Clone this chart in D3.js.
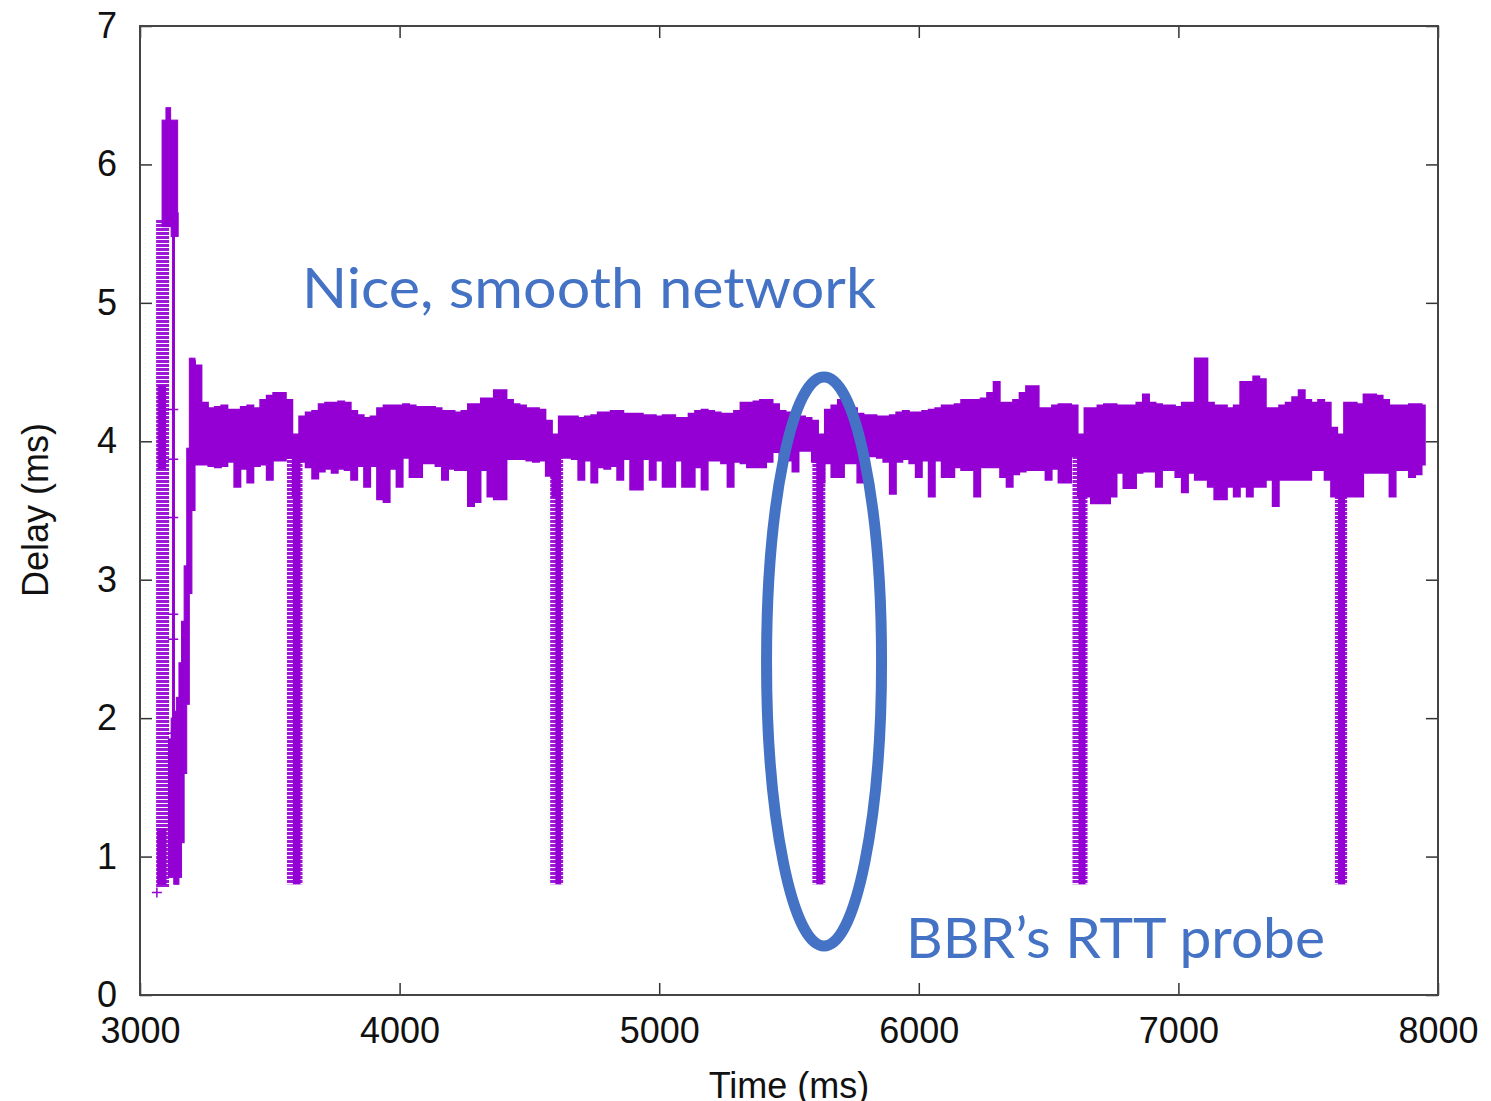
<!DOCTYPE html>
<html>
<head>
<meta charset="utf-8">
<script src="https://cdn.jsdelivr.net/npm/d3@7"></script>
<style>
  body { margin: 0; background: #fff; }
  svg text { font-family: "Liberation Sans", Arial, sans-serif; }
</style>
</head>
<body>
<div class="chart"></div>
<script>
// ---- data ----
const timeTicks = [3000, 4000, 5000, 6000, 7000, 8000]
const delayTicks = [0, 1, 2, 3, 4, 5, 6, 7]

// main band: time (ms), lowest and highest delay (ms) around that time
const bandTime = [3200,3225,3250,3275,3300,3325,3350,3375,3400,3425,3450,3475,3500,3525,3550,3575,3600,3625,3650,3675,
  3700,3725,3750,3775,3800,3825,3850,3875,3900,3925,3950,3975,4000,4025,4050,4075,4100,4125,4150,4175,
  4200,4225,4250,4275,4300,4325,4350,4375,4400,4425,4450,4475,4500,4525,4550,4575,4600,4625,4650,4675,
  4700,4725,4750,4775,4800,4825,4850,4875,4900,4925,4950,4975,5000,5025,5050,5075,5100,5125,5150,5175,
  5200,5225,5250,5275,5300,5325,5350,5375,5400,5425,5450,5475,5500,5525,5550,5575,5600,5625,5650,5675,
  5700,5725,5750,5775,5800,5825,5850,5875,5900,5925,5950,5975,6000,6025,6050,6075,6100,6125,6150,6175,
  6200,6225,6250,6275,6300,6325,6350,6375,6400,6425,6450,6475,6500,6525,6550,6575,6600,6625,6650,6675,
  6700,6725,6750,6775,6800,6825,6850,6875,6900,6925,6950,6975,7000,7025,7050,7075,7100,7125,7150,7175,
  7200,7225,7250,7275,7300,7325,7350,7375,7400,7425,7450,7475,7500,7525,7550,7575,7600,7625,7650,7675,
  7700,7725,7750,7775,7800,7825,7850,7875,7900,7925,7950]
const bandHigh = [4.58,4.55,4.28,4.24,4.25,4.26,4.23,4.23,4.25,4.26,4.24,4.30,4.33,4.35,4.35,4.30,4.05,4.18,4.21,4.22,
  4.27,4.28,4.28,4.29,4.28,4.22,4.19,4.17,4.18,4.24,4.26,4.26,4.26,4.27,4.26,4.25,4.25,4.25,4.24,4.22,
  4.22,4.21,4.22,4.27,4.27,4.31,4.31,4.37,4.37,4.30,4.27,4.26,4.24,4.24,4.23,4.15,4.05,4.18,4.18,4.18,
  4.17,4.18,4.19,4.21,4.21,4.22,4.22,4.20,4.20,4.20,4.19,4.19,4.18,4.19,4.19,4.17,4.17,4.20,4.22,4.23,
  4.22,4.21,4.20,4.20,4.22,4.28,4.28,4.29,4.30,4.30,4.27,4.22,4.21,4.19,4.18,4.17,4.15,4.05,4.23,4.26,
  4.30,4.27,4.24,4.20,4.19,4.19,4.18,4.18,4.19,4.21,4.22,4.21,4.21,4.22,4.23,4.24,4.26,4.26,4.27,4.30,
  4.30,4.30,4.31,4.35,4.43,4.28,4.28,4.30,4.35,4.40,4.40,4.24,4.24,4.26,4.27,4.27,4.26,4.05,4.24,4.24,
  4.26,4.27,4.27,4.26,4.26,4.26,4.28,4.34,4.28,4.27,4.26,4.26,4.25,4.28,4.28,4.60,4.60,4.28,4.26,4.26,
  4.24,4.26,4.43,4.43,4.47,4.45,4.24,4.24,4.26,4.28,4.32,4.37,4.30,4.28,4.30,4.28,4.10,4.05,4.28,4.28,
  4.27,4.34,4.34,4.33,4.30,4.26,4.26,4.26,4.27,4.27,4.26]
const bandLow = [3.85,3.83,3.83,3.82,3.81,3.82,3.85,3.67,3.80,3.70,3.82,3.83,3.72,3.86,3.86,3.88,3.60,3.85,3.81,3.73,
  3.78,3.80,3.77,3.80,3.79,3.72,3.82,3.67,3.82,3.58,3.56,3.80,3.67,3.88,3.74,3.74,3.84,3.84,3.82,3.72,
  3.80,3.79,3.79,3.53,3.56,3.79,3.60,3.58,3.58,3.87,3.87,3.87,3.86,3.85,3.86,3.75,3.60,3.88,3.88,3.87,
  3.72,3.86,3.70,3.81,3.80,3.82,3.72,3.87,3.65,3.65,3.87,3.72,3.86,3.67,3.67,3.86,3.67,3.67,3.81,3.65,
  3.86,3.86,3.84,3.67,3.85,3.84,3.81,3.81,3.81,3.85,3.92,3.84,3.86,3.78,3.93,3.93,3.85,3.70,3.84,3.74,
  3.74,3.84,3.84,3.70,3.89,3.89,3.88,3.85,3.62,3.85,3.87,3.84,3.74,3.86,3.60,3.86,3.74,3.74,3.81,3.79,
  3.79,3.60,3.81,3.81,3.81,3.74,3.67,3.76,3.78,3.79,3.79,3.79,3.72,3.80,3.70,3.70,3.89,3.60,3.60,3.55,
  3.55,3.55,3.60,3.77,3.66,3.66,3.77,3.78,3.78,3.67,3.79,3.79,3.74,3.63,3.77,3.72,3.72,3.67,3.58,3.58,
  3.67,3.60,3.67,3.60,3.67,3.67,3.72,3.53,3.72,3.72,3.72,3.72,3.72,3.79,3.79,3.72,3.60,3.60,3.60,3.60,
  3.60,3.77,3.77,3.77,3.77,3.60,3.79,3.79,3.74,3.76,3.83]

// RTT probe drops: sparse edge and dense core, in ms
const probeStart = [3566, 4580, 5590, 6592, 7603]
const probeCoreStart = [3589, 4600, 5605, 6615, 7615]
const probeEnd = [3626, 4630, 5640, 6650, 7650]
const probeTop = [3.95, 3.90, 4.00, 3.90, 3.75]
const probeBottom = [0.80, 0.80, 0.80, 0.80, 0.80]

// start-up burst (time from, time to, low, high, dense)
const burstFrom = [3062, 3085, 3100, 3120, 3125, 3068, 3070,
  3110, 3120, 3130, 3140, 3150, 3160, 3170, 3180, 3190, 3200]
const burstTo = [3112, 3145, 3118, 3147, 3131, 3100, 3098,
  3120, 3130, 3140, 3150, 3160, 3170, 3180, 3190, 3200, 3212]
const burstLow = [0.78, 5.55, 6.00, 5.48, 1.00, 0.80, 3.80,
  0.85, 0.85, 0.80, 0.80, 0.85, 1.10, 1.60, 2.10, 2.90, 3.50]
const burstHigh = [5.60, 6.32, 6.41, 5.65, 5.50, 1.20, 4.40,
  1.85, 2.00, 2.05, 2.15, 2.40, 2.70, 3.10, 3.95, 4.60, 4.60]
const burstDense = [false, true, true, true, true, true, true,
  true, true, true, true, true, true, true, true, true, true]

// loose single samples
const looseTime = [3128, 3128, 3128, 3128, 3128, 3122, 3122, 3065]
const looseDelay = [4.23, 3.87, 3.45, 2.75, 2.57, 1.89, 1.74, 0.74]

let w = 1491
let h = 1101
let purple = "#9400d3"
let blue = "#4472c4"

const x = d3.scaleLinear().domain([3000, 8000]).range([140, 1438])
const y = d3.scaleLinear().domain([0, 7]).range([995, 26])

let svg = d3.select(".chart")
  .append("svg")
  .attr("width", w)
  .attr("height", h)

// stacked crosses look for the thin parts
let defs = svg.append("defs")
let pat = defs.append("pattern")
  .attr("id", "crosses")
  .attr("patternUnits", "userSpaceOnUse")
  .attr("width", 6).attr("height", 4)
pat.append("rect").attr("x", 0).attr("y", 0).attr("width", 6).attr("height", 3)
  .attr("fill", purple).attr("opacity", 0.9)

let plot = svg.append("g")

// band
let band = d3.area()
  .x((d, i) => x(bandTime[i]))
  .y0((d, i) => y(bandLow[i]))
  .y1((d, i) => y(bandHigh[i]))
  .curve(d3.curveStep)

plot.append("path")
  .datum(bandTime)
  .attr("d", band)
  .attr("fill", purple)
  .attr("stroke", purple)
  .attr("stroke-width", 1.5)

// probes
plot.selectAll(".probe-edge")
  .data(probeStart)
  .enter()
  .append("rect")
  .attr("class", "probe-edge")
  .attr("x", (d) => x(d))
  .attr("width", (d, i) => x(probeEnd[i]) - x(d))
  .attr("y", (d, i) => y(probeTop[i]))
  .attr("height", (d, i) => y(probeBottom[i]) - y(probeTop[i]))
  .attr("fill", "url(#crosses)")

plot.selectAll(".probe-core")
  .data(probeCoreStart)
  .enter()
  .append("rect")
  .attr("class", "probe-core")
  .attr("x", (d) => x(d))
  .attr("width", (d, i) => x(probeEnd[i]) - x(d) - 2)
  .attr("y", (d, i) => y(probeTop[i]))
  .attr("height", (d, i) => y(probeBottom[i]) - y(probeTop[i]))
  .attr("fill", purple)

// start-up burst
plot.selectAll(".burst")
  .data(burstFrom)
  .enter()
  .append("rect")
  .attr("class", "burst")
  .attr("x", (d) => x(d))
  .attr("width", (d, i) => Math.max(2, x(burstTo[i]) - x(d)))
  .attr("y", (d, i) => y(burstHigh[i]))
  .attr("height", (d, i) => y(burstLow[i]) - y(burstHigh[i]))
  .attr("fill", (d, i) => burstDense[i] ? purple : "url(#crosses)")
  .attr("stroke", (d, i) => burstDense[i] ? purple : "none")
  .attr("stroke-width", 1)

// single + marks
plot.selectAll(".pt")
  .data(looseTime)
  .enter()
  .append("path")
  .attr("class", "pt")
  .attr("d", (d, i) => {
    let cx = x(d), cy = y(looseDelay[i])
    return "M" + (cx - 5) + "," + cy + "h10M" + cx + "," + (cy - 5) + "v10"
  })
  .attr("stroke", purple)
  .attr("stroke-width", 1.5)
  .attr("fill", "none")

// axes, ticks pointing in, mirrored on top/right
let axisFont = (g) => {
  g.select(".domain").remove()
  g.selectAll("line").attr("stroke", "#333").attr("stroke-width", 1.5)
  g.selectAll("text").attr("font-size", 36).attr("fill", "#111")
    .attr("font-family", "Liberation Sans, Arial, sans-serif")
}

svg.append("g")
  .attr("transform", "translate(0," + 995 + ")")
  .call(d3.axisBottom(x).tickValues(timeTicks).tickSize(-12).tickPadding(22).tickFormat(d3.format("d")))
  .call(axisFont)
svg.append("g")
  .attr("transform", "translate(0," + 26 + ")")
  .call(d3.axisTop(x).tickValues(timeTicks).tickSize(-12).tickFormat(""))
  .call(axisFont)
svg.append("g")
  .attr("transform", "translate(" + 140 + ",0)")
  .call(d3.axisLeft(y).tickValues(delayTicks).tickSize(-12).tickPadding(23).tickFormat(d3.format("d")))
  .call(axisFont)
svg.append("g")
  .attr("transform", "translate(" + 1438 + ",0)")
  .call(d3.axisRight(y).tickValues(delayTicks).tickSize(-12).tickFormat(""))
  .call(axisFont)

svg.append("rect")
  .attr("x", 140).attr("y", 26)
  .attr("width", 1438 - 140).attr("height", 995 - 26)
  .attr("fill", "none")
  .attr("stroke", "#444")
  .attr("stroke-width", 2)

// axis titles
svg.append("text")
  .text("Time (ms)")
  .attr("x", 789)
  .attr("y", 1098)
  .attr("text-anchor", "middle")
  .attr("font-size", 36)
  .attr("fill", "#111")

svg.append("text")
  .text("Delay (ms)")
  .attr("transform", "translate(48,510) rotate(-90)")
  .attr("text-anchor", "middle")
  .attr("font-size", 36)
  .attr("fill", "#111")

// annotations
svg.append("ellipse")
  .attr("cx", x(5635))
  .attr("cy", y(2.41))
  .attr("rx", 57.5)
  .attr("ry", 284.5)
  .attr("fill", "none")
  .attr("stroke", blue)
  .attr("stroke-width", 11)

svg.append("text")
  .text("Nice, smooth network")
  .attr("x", 302)
  .attr("y", 308)
  .attr("font-size", 57)
  .attr("textLength", 574)
  .attr("lengthAdjust", "spacingAndGlyphs")
  .style("font-family", "Lato, 'Open Sans', sans-serif")
  .attr("fill", blue)

svg.append("text")
  .text("BBR’s RTT probe")
  .attr("x", 906)
  .attr("y", 958)
  .attr("font-size", 57)
  .attr("textLength", 419)
  .attr("lengthAdjust", "spacingAndGlyphs")
  .style("font-family", "Lato, 'Open Sans', sans-serif")
  .attr("fill", blue)
</script>
</body>
</html>
